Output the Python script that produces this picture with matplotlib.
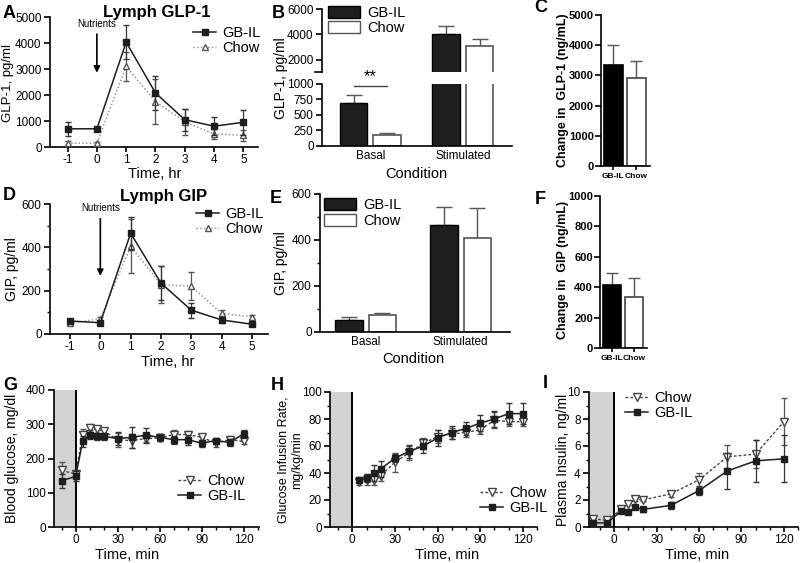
import numpy as np
import matplotlib
matplotlib.use('Agg')
import matplotlib.pyplot as plt
from matplotlib.lines import Line2D
from matplotlib.ticker import MultipleLocator

NARROW = ['Liberation Sans Narrow', 'Liberation Sans', 'DejaVu Sans']
WIDE = ['Liberation Sans', 'DejaVu Sans']
plt.rcParams['font.family'] = NARROW
plt.rcParams['axes.unicode_minus'] = False
plt.rcParams['axes.linewidth'] = 1.2
plt.rcParams['xtick.major.width'] = 1.2
plt.rcParams['ytick.major.width'] = 1.2
plt.rcParams['xtick.minor.width'] = 1.0
plt.rcParams['ytick.minor.width'] = 1.0
plt.rcParams['xtick.major.size'] = 3.5
plt.rcParams['ytick.major.size'] = 4
plt.rcParams['xtick.minor.size'] = 2.5
plt.rcParams['ytick.minor.size'] = 2.5
plt.rcParams['xtick.labelsize'] = 8.5
plt.rcParams['ytick.labelsize'] = 8.5
plt.rcParams['xtick.major.pad'] = 1.5
plt.rcParams['ytick.major.pad'] = 2

# ---------------- data ----------------
hours = [-1, 0, 1, 2, 3, 4, 5]
glp1_gbil = [700, 700, 4030, 2080, 1050, 800, 950]
glp1_gbil_err = [270, 60, 650, 650, 430, 350, 480]
glp1_chow = [150, 150, 3100, 1750, 970, 500, 450]
glp1_chow_err = [80, 60, 550, 880, 500, 200, 200]

gip_gbil = [60, 52, 465, 235, 110, 65, 45]
gip_gbil_err = [10, 10, 75, 80, 35, 12, 8]
gip_chow = [50, 70, 405, 228, 220, 95, 80]
gip_chow_err = [10, 10, 125, 85, 65, 15, 10]

conditions = ['Basal', 'Stimulated']
glp1_bar_gbil = [700, 4030]
glp1_bar_gbil_err = [130, 650]
glp1_bar_chow = [170, 3100]
glp1_bar_chow_err = [40, 550]
gip_bar_gbil = [52, 465]
gip_bar_gbil_err = [12, 80]
gip_bar_chow = [72, 410]
gip_bar_chow_err = [12, 130]

groups = ['GB-IL', 'Chow']
delta_glp1 = [3330, 2930]
delta_glp1_err = [680, 550]
delta_gip = [415, 338]
delta_gip_err = [80, 122]

t_glu = [-10, 0, 5, 10, 15, 20, 30, 40, 50, 60, 70, 80, 90, 100, 110, 120]
glu_gbil = [135, 148, 250, 270, 265, 265, 258, 262, 268, 262, 255, 255, 245, 252, 247, 272]
glu_gbil_err = [20, 15, 15, 12, 10, 10, 20, 30, 22, 10, 12, 15, 10, 8, 10, 12]
glu_chow = [165, 155, 270, 288, 285, 280, 255, 252, 258, 260, 270, 270, 262, 245, 255, 250]
glu_chow_err = [25, 10, 15, 12, 10, 8, 20, 20, 10, 10, 12, 10, 8, 10, 10, 8]

t_gir = [5, 10, 15, 20, 30, 40, 50, 60, 70, 80, 90, 100, 110, 120]
gir_gbil = [35, 36, 40, 43, 51, 56, 60, 66, 70, 73, 77, 80, 84, 84]
gir_gbil_err = [2, 3, 6, 6, 3, 5, 5, 6, 5, 5, 6, 6, 8, 8]
gir_chow = [33, 35, 35, 38, 48, 55, 62, 67, 69, 70, 72, 79, 78, 78]
gir_chow_err = [2, 4, 4, 4, 7, 5, 4, 5, 4, 3, 3, 6, 3, 3]

t_ins = [-15, -5, 5, 10, 15, 20, 40, 60, 80, 100, 120]
ins_chow = [0.6, 0.5, 1.3, 1.7, 2.1, 2.0, 2.45, 3.5, 5.2, 5.4, 7.8]
ins_chow_err = [0.1, 0.1, 0.1, 0.1, 0.15, 0.1, 0.25, 0.5, 0.85, 1.05, 1.75]
ins_gbil = [0.3, 0.3, 1.2, 1.1, 1.45, 1.3, 1.6, 2.7, 4.15, 4.9, 5.05]
ins_gbil_err = [0.2, 0.15, 0.1, 0.1, 0.15, 0.2, 0.25, 0.35, 1.3, 1.55, 1.75]

# ---------------- layout helpers ----------------
W, H = 800, 563
fig = plt.figure(figsize=(W / 100, H / 100), dpi=100)


def px_axes(left, top, right, bottom):
    ax = fig.add_axes([left / W, 1 - bottom / H, (right - left) / W, (bottom - top) / H])
    ax.spines['top'].set_visible(False)
    ax.spines['right'].set_visible(False)
    ax.patch.set_visible(False)
    return ax


def ftext(x, y, s, **kw):
    fig.text(x / W, 1 - y / H, s, ha='center', va='center', **kw)


def ylab(x, y, s, size=10, **kw):
    ftext(x, y, s, rotation=90, fontsize=size, family=WIDE, **kw)


DARK = '#1e1e1e'
GREY = '#8a8a8a'


def line_pair(ax, x, y1, e1, y2, e2, chow_first=False, dotted=True):
    if dotted:
        chow_kw = dict(color=GREY, ls=':', marker='^', mfc='white', mec='#555555', ms=5, lw=1.0)
    else:
        chow_kw = dict(color='#444444', ls='--', dashes=(2, 1.5), marker='v', mfc='white',
                       mec='#444444', ms=6, lw=1.0)
    gb_kw = dict(color=DARK, ls='-', marker='s', mfc=DARK, mec=DARK, ms=5, lw=1.1)
    ax.errorbar(x, y2, yerr=e2, capsize=2.5, elinewidth=0.9, ecolor='#555555', zorder=3, **chow_kw)
    ax.errorbar(x, y1, yerr=e1, capsize=2.5, elinewidth=0.9, ecolor='#333333', zorder=4, **gb_kw)
    gb_h = Line2D([], [], **gb_kw)
    chow_h = Line2D([], [], **chow_kw)
    if chow_first:
        return [chow_h, gb_h], ['Chow', 'GB-IL']
    return [gb_h, chow_h], ['GB-IL', 'Chow']


def px_legend(ax, handles, labels, x, y, size=10.5):
    ax.legend(handles, labels, loc='upper left', bbox_to_anchor=(x / W, 1 - y / H),
              bbox_transform=fig.transFigure, frameon=False, fontsize=size,
              handlelength=1.6, handletextpad=0.4, labelspacing=0.05,
              borderpad=0, borderaxespad=0)


def grouped_bars(ax, a, ae, b, be, off, width):
    x = np.arange(len(a))
    ax.bar(x - off, a, width, color=DARK, edgecolor='black', lw=1.0, zorder=2)
    ax.bar(x + off, b, width, color='white', edgecolor='#555555', lw=1.2, zorder=2)
    ax.errorbar(x - off, a, yerr=[np.zeros(len(a)), ae], fmt='none', ecolor='#555555',
                capsize=6, elinewidth=1.0, capthick=1.0, zorder=1)
    ax.errorbar(x + off, b, yerr=[np.zeros(len(b)), be], fmt='none', ecolor='#555555',
                capsize=6, elinewidth=1.0, capthick=1.0, zorder=1)


def delta_bars(ax, vals, errs, ylim, step):
    x = np.arange(len(vals))
    ax.bar(x, vals, 0.84, color=['black', 'white'], edgecolor=['black', '#444444'], lw=1.2, zorder=2)
    ax.errorbar(x, vals, yerr=[np.zeros(len(vals)), errs], fmt='none', ecolor='#555555',
                capsize=4, elinewidth=1.0, zorder=1)
    ax.set_xlim(-0.54, 1.6)
    ax.set_ylim(*ylim)
    ax.set_yticks(np.arange(0, ylim[1] + 1, step))
    ax.set_xticks(x)
    ax.set_xticklabels(groups, fontsize=6, fontweight='bold')
    ax.tick_params(axis='x', length=3, pad=2)
    for lab in ax.get_yticklabels():
        lab.set_fontweight('bold')
        lab.set_fontsize(8)
    ax.tick_params(axis='y', pad=1)


def clamp_axes(ax, xl):
    ax.set_xlim(*xl)
    ax.axvspan(xl[0], 0, color='#d3d3d3', zorder=0, lw=0)
    ax.axvline(0, color='black', lw=1.4, zorder=1)
    ax.set_xticks([0, 30, 60, 90, 120])
    ax.xaxis.set_minor_locator(MultipleLocator(10))


# ---------------- A ----------------
axA = px_axes(50, 17, 258, 147)
h, l = line_pair(axA, hours, glp1_gbil, glp1_gbil_err, glp1_chow, glp1_chow_err)
axA.set_xlim(-1.6, 5.5)
axA.set_ylim(0, 5000)
axA.set_xticks(hours)
axA.set_yticks(range(0, 5001, 1000))
px_legend(axA, h, l, 193, 26)
axA.text(0, 4730, 'Nutrients', ha='center', va='center', fontsize=7)
axA.annotate('', xy=(0, 2750), xytext=(0, 4450),
             arrowprops=dict(arrowstyle='-|>', color='black', lw=1.2, mutation_scale=9))
ftext(157, 12, 'Lymph GLP-1', fontsize=12, fontweight='bold')
ylab(8, 83, 'GLP-1, pg/ml', size=9.5)
ftext(155, 174, 'Time, hr', fontsize=10.5)

# ---------------- B (broken axis) ----------------
axBl = px_axes(322, 84, 512, 146)
axBu = px_axes(322, 9, 512, 72)
for ax in (axBl, axBu):
    grouped_bars(ax, glp1_bar_gbil, glp1_bar_gbil_err, glp1_bar_chow, glp1_bar_chow_err, 0.18, 0.3)
    ax.set_xlim(-0.52, 1.53)
axBl.set_ylim(0, 1000)
axBl.set_yticks([0, 250, 500, 750, 1000])
axBl.set_xticks([0, 1])
axBl.set_xticklabels(conditions)
axBl.tick_params(axis='x', length=0, pad=3)
axBu.set_ylim(1050, 6000)
axBu.set_yticks([2000, 4000, 6000])
axBu.spines['bottom'].set_visible(False)
axBu.set_xticks([])
axBu.plot([-0.035, 0], [0, 0], transform=axBu.transAxes, color='black', lw=1.2, clip_on=False)
axBl.plot([-0.18, 0.18], [968, 968], color='#444444', lw=1.0, clip_on=False)
axBl.text(0, 990, '**', ha='center', va='bottom', fontsize=12, clip_on=False, zorder=10)
bh = [plt.Rectangle((0, 0), 1, 1, fc=DARK, ec='black'),
      plt.Rectangle((0, 0), 1, 1, fc='white', ec='#555555')]
axBu.legend(bh, groups, loc='upper left', bbox_to_anchor=(328 / W, 1 - 6 / H),
            bbox_transform=fig.transFigure, frameon=False, fontsize=10.5,
            handlelength=2.2, handleheight=0.9, handletextpad=0.5, labelspacing=0.05,
            borderpad=0, borderaxespad=0)
ylab(281, 78, 'GLP-1, pg/ml')
ftext(416, 174, 'Condition', fontsize=10.5)

# ---------------- C ----------------
axC = px_axes(601, 15, 650, 166)
delta_bars(axC, delta_glp1, delta_glp1_err, (0, 5000), 1000)
ylab(563, 90, 'Change in  GLP-1 (ng/mL)', size=9, fontweight='bold')

# ---------------- D ----------------
axD = px_axes(50, 204, 268, 334)
h, l = line_pair(axD, hours, gip_gbil, gip_gbil_err, gip_chow, gip_chow_err)
axD.set_xlim(-1.66, 5.53)
axD.set_ylim(0, 600)
axD.set_xticks(hours)
axD.set_yticks([0, 200, 400, 600])
axD.yaxis.set_minor_locator(MultipleLocator(100))
px_legend(axD, h, l, 196, 207)
axD.text(0, 583, 'Nutrients', ha='center', va='center', fontsize=7)
axD.annotate('', xy=(0, 255), xytext=(0, 545),
             arrowprops=dict(arrowstyle='-|>', color='black', lw=1.2, mutation_scale=9))
ftext(164, 197, 'Lymph GIP', fontsize=12, fontweight='bold')
ylab(12, 269, 'GIP, pg/ml')
ftext(168, 362, 'Time, hr', fontsize=10.5)

# ---------------- E ----------------
axE = px_axes(320, 194, 510, 332)
grouped_bars(axE, gip_bar_gbil, gip_bar_gbil_err, gip_bar_chow, gip_bar_chow_err, 0.176, 0.29)
axE.set_xlim(-0.48, 1.52)
axE.set_ylim(0, 600)
axE.set_yticks([0, 200, 400, 600])
axE.yaxis.set_minor_locator(MultipleLocator(100))
axE.set_xticks([0, 1])
axE.set_xticklabels(conditions)
axE.tick_params(axis='x', length=0, pad=3)
axE.legend(bh, groups, loc='upper left', bbox_to_anchor=(324 / W, 1 - 198 / H),
           bbox_transform=fig.transFigure, frameon=False, fontsize=10.5,
           handlelength=2.2, handleheight=0.9, handletextpad=0.5, labelspacing=0.1,
           borderpad=0, borderaxespad=0)
ylab(281, 263, 'GIP, pg/ml')
ftext(413, 359, 'Condition', fontsize=10.5)

# ---------------- F ----------------
axF = px_axes(600, 196, 647, 348)
delta_bars(axF, delta_gip, delta_gip_err, (0, 1000), 200)
ylab(563, 270, 'Change in  GIP (ng/mL)', size=9, fontweight='bold')

# ---------------- G ----------------
axG = px_axes(54, 390, 259, 527)
clamp_axes(axG, (-15.5, 131))
h, l = line_pair(axG, t_glu, glu_gbil, glu_gbil_err, glu_chow, glu_chow_err,
                 chow_first=True, dotted=False)
axG.set_ylim(0, 400)
axG.set_yticks(range(0, 401, 100))
px_legend(axG, h, l, 178, 474)
ylab(12, 458, 'Blood glucose, mg/dl')
ftext(127, 555, 'Time, min', fontsize=10.5)

# ---------------- H ----------------
axH = px_axes(330, 392, 537, 527)
clamp_axes(axH, (-15.7, 130))
h, l = line_pair(axH, t_gir, gir_gbil, gir_gbil_err, gir_chow, gir_chow_err,
                 chow_first=True, dotted=False)
axH.set_ylim(0, 100)
axH.set_yticks(range(0, 101, 20))
axH.yaxis.set_minor_locator(MultipleLocator(10))
px_legend(axH, h, l, 480, 486)
ylab(290, 460, 'Glucose Infusion Rate,\nmg/kg/min', size=9, linespacing=1.15)
ftext(447, 555, 'Time, min', fontsize=10.5)

# ---------------- I ----------------
axI = px_axes(589, 392, 798, 527)
clamp_axes(axI, (-17.9, 130))
h, l = line_pair(axI, t_ins, ins_gbil, ins_gbil_err, ins_chow, ins_chow_err,
                 chow_first=True, dotted=False)
axI.set_ylim(0, 10)
axI.set_yticks(range(0, 11, 2))
axI.yaxis.set_minor_locator(MultipleLocator(1))
px_legend(axI, h, l, 625, 391)
ylab(563, 460, 'Plasma Insulin, ng/ml')
ftext(697, 555, 'Time, min', fontsize=10.5)

# ---------------- panel letters ----------------
for s, x, y in [('A', 9, 13), ('B', 278, 13), ('C', 541, 8), ('D', 9, 195), ('E', 276, 198),
                ('F', 540, 200), ('G', 10, 385), ('H', 277, 385), ('I', 545, 383)]:
    ftext(x, y, s, fontsize=13, fontweight='bold', family=WIDE)

fig.savefig('out.png', dpi=100)
